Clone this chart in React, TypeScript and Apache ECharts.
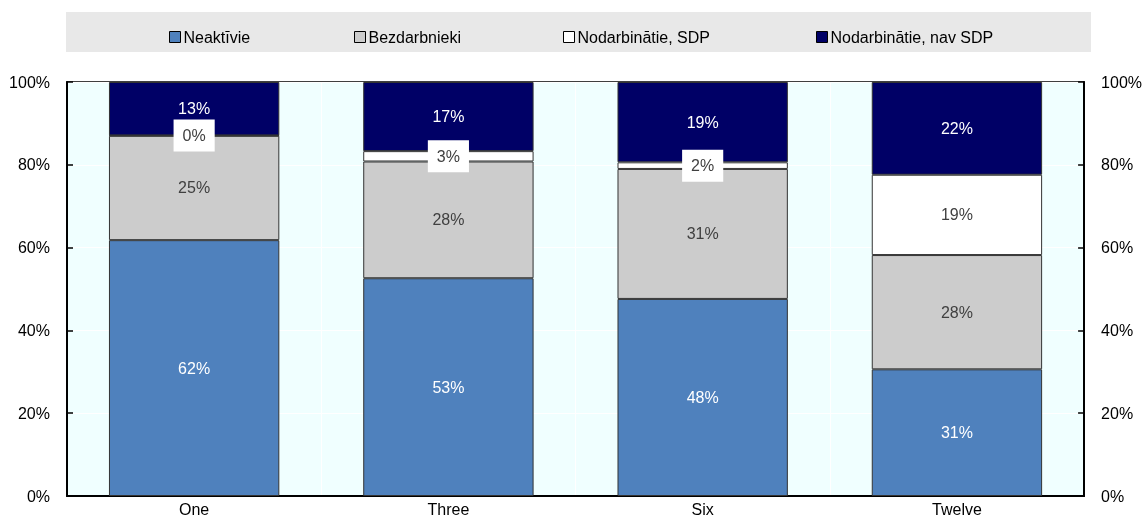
import React, { useEffect, useRef } from "react";
import * as echarts from "echarts";

const categories = ["One", "Three", "Six", "Twelve"];
const seriesNames = ["Neaktīvie", "Bezdarbnieki", "Nodarbinātie, SDP", "Nodarbinātie, nav SDP"];
const neaktivie = [61.8, 52.6, 47.6, 30.6];
const bezdarbnieki = [25.2, 28.2, 31.4, 27.6];
const nodarbSDP = [0.1, 2.5, 1.6, 19.4];
const nodarbNavSDP = [12.9, 16.7, 19.4, 22.4];
const yTicks = [0, 20, 40, 60, 80, 100];

const FONT = "'Liberation Sans', Arial, sans-serif";

export default function App() {
  const ref = useRef<HTMLDivElement>(null);
  useEffect(() => {
    if (!ref.current) return;
    const chart = echarts.init(ref.current, null, { renderer: "svg" });
    const fmt = (p: any) => Math.round(p.value) + "%";
    const colors = ["#4F81BD", "#CCCCCC", "#FFFFFF", "#000066"];
    const values = [neaktivie, bezdarbnieki, nodarbSDP, nodarbNavSDP];
    const labelColors = ["#FFFFFF", "#404040", "#404040", "#FFFFFF"];
    const legendLefts = [164, 349, 558, 811];
    const axisLabel = {
      formatter: "{value}%",
      color: "#000",
      fontSize: 16,
      fontFamily: FONT,
      margin: 17,
    };
    chart.setOption({
      animation: false,
      textStyle: { fontFamily: FONT },
      graphic: [
        {
          type: "rect",
          shape: { x: 66, y: 12, width: 1025, height: 40 },
          style: { fill: "#E8E8E8" },
          z: -1,
        },
      ],
      legend: seriesNames.map((n, i) => ({
        data: [n],
        left: legendLefts[i],
        top: 24,
        itemWidth: 11,
        itemHeight: 11,
        icon: "rect",
        textStyle: {
          fontSize: 16,
          color: "#000",
          fontFamily: FONT,
          lineHeight: 16,
          padding: [0, 0, 0, -2],
        },
        itemStyle: { borderColor: "#000", borderWidth: 1 },
        selectedMode: false,
      })),
      grid: {
        left: 67,
        right: 59,
        top: 82,
        bottom: 24,
        show: true,
        backgroundColor: "#F0FFFF",
        borderColor: "#000",
        borderWidth: 1.5,
      },
      xAxis: {
        type: "category",
        data: categories,
        axisLine: { lineStyle: { color: "#000", width: 2 } },
        axisTick: { show: false },
        axisLabel: { color: "#000", fontSize: 16, fontFamily: FONT, margin: 5 },
        splitLine: { show: true, interval: 0, lineStyle: { color: "#FFFFFF", width: 1 } },
      },
      yAxis: [
        {
          type: "value",
          min: yTicks[0],
          max: yTicks[yTicks.length - 1],
          interval: 20,
          position: "left",
          axisLine: { show: true, lineStyle: { color: "#000", width: 2 } },
          axisTick: { show: true, inside: true, length: 6, lineStyle: { color: "#000", width: 1.5 } },
          axisLabel,
          splitLine: { show: true, lineStyle: { color: "#FFFFFF", width: 1 } },
        },
        {
          type: "value",
          min: yTicks[0],
          max: yTicks[yTicks.length - 1],
          interval: 20,
          position: "right",
          axisLine: { show: true, lineStyle: { color: "#000", width: 2 } },
          axisTick: { show: true, inside: true, length: 6, lineStyle: { color: "#000", width: 1.5 } },
          axisLabel,
          splitLine: { show: false },
        },
      ],
      series: seriesNames.map((n, i) => ({
        name: n,
        type: "bar",
        stack: "total",
        barWidth: "67%",
        data: values[i],
        itemStyle: { color: colors[i], borderColor: "#333", borderWidth: 1 },
        label: {
          show: true,
          position: "inside",
          formatter: fmt,
          color: labelColors[i],
          fontSize: 16,
          fontFamily: FONT,
          ...(i === 2 ? { backgroundColor: "#FFFFFF", padding: [7, 9], lineHeight: 18 } : {}),
        },
        z: i === 2 ? 3 : 2,
      })),
    });
    return () => chart.dispose();
  }, []);
  return (
    <div
      ref={ref}
      style={{ position: "fixed", left: 0, top: 0, width: 1145, height: 520 }}
    />
  );
}
